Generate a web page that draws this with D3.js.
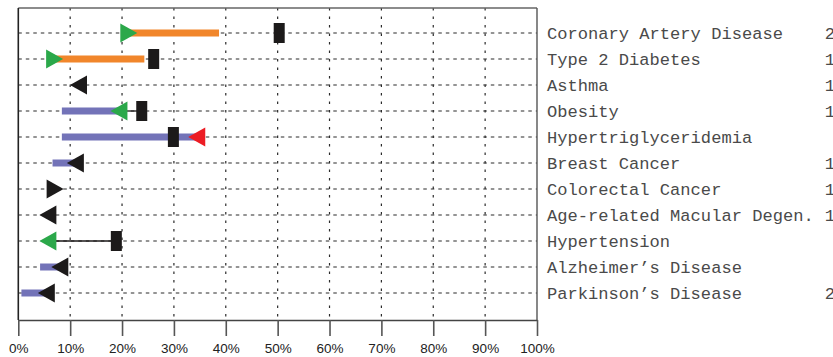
<!DOCTYPE html>
<html>
<head>
<meta charset="utf-8">
<script src="https://cdn.jsdelivr.net/npm/d3@7/dist/d3.min.js"></script>
<style>
  html, body { margin: 0; padding: 0; background: #fff; overflow: hidden; }
  svg { display: block; }
</style>
</head>
<body>
<svg id="chart" width="833" height="357"></svg>
<script>
// Diseases, top to bottom
const categories = [
  "Coronary Artery Disease", "Type 2 Diabetes", "Asthma", "Obesity",
  "Hypertriglyceridemia", "Breast Cancer", "Colorectal Cancer",
  "Age-related Macular Degen.", "Hypertension", "Alzheimer\u2019s Disease",
  "Parkinson\u2019s Disease"
];
// Leading digit of the count column at the right edge
const countDigits = ["2", "1", "1", "1", "", "1", "1", "1", "", "", "2"];

// Triangle markers (percent), direction and colour key
const triValues = [21.3, 7.0, 11.6, 19.4, 34.4, 11.0, 7.1, 5.7, 5.7, 8.0, 5.4];
const triDirs   = ["right", "right", "left", "left", "left", "left", "right", "left", "left", "left", "left"];
const triKinds  = ["green", "green", "black", "green", "red", "black", "black", "black", "green", "black", "black"];

// Square markers (percent)
const rectValues = [50.3, 26.1, null, 23.8, 29.9, null, null, null, 18.9, null, null];

// Thick range bars (percent) and colour key
const barStart = [21.3, 7.0, null, 8.4, 8.4, 6.6, null, null, null, 4.2, 0.6];
const barEnd   = [38.7, 24.3, null, 19.4, 34.4, 11.0, null, null, null, 8.0, 5.4];
const barKinds = ["orange", "orange", null, "purple", "purple", "purple", null, null, null, "purple", "purple"];

// Thin connector from triangle to square
const linkStart = [null, null, null, 19.4, null, null, null, null, 5.7, null, null];

const xTicks = [0, 10, 20, 30, 40, 50, 60, 70, 80, 90, 100];

const palette = {
  green: "#2ba84a", black: "#1c1a1a", red: "#ec1c24",
  orange: "#f1862b", purple: "#7373b8"
};

const svg = d3.select("#chart");
const plotLeft = 18.3, plotRight = 537, plotTop = 8, plotBottom = 320;

const x = d3.scaleLinear().domain([0, 100]).range([plotLeft, plotRight]);
const y = d3.scalePoint().domain(categories).range([33, 293]);

const rows = categories.map((c, i) => ({
  name: c, i,
  tri: triValues[i], dir: triDirs[i], kind: triKinds[i],
  rect: rectValues[i],
  b0: barStart[i], b1: barEnd[i], bk: barKinds[i],
  link: linkStart[i], count: countDigits[i]
}));

// grid
const grid = svg.append("g");
grid.selectAll("line.h")
  .data(categories)
  .join("line")
  .attr("class", "h")
  .attr("x1", plotLeft).attr("x2", plotRight)
  .attr("y1", d => y(d)).attr("y2", d => y(d))
  .attr("stroke", "#2a2a2a").attr("stroke-width", 1.2)
  .attr("stroke-dasharray", "3.5,4");
grid.selectAll("line.v")
  .data(xTicks.slice(1, -1))
  .join("line")
  .attr("class", "v")
  .attr("x1", d => x(d)).attr("x2", d => x(d))
  .attr("y1", plotTop).attr("y2", plotBottom)
  .attr("stroke", "#2a2a2a").attr("stroke-width", 1.2)
  .attr("stroke-dasharray", "2.5,6");

// range bars
svg.append("g").selectAll("line")
  .data(rows.filter(d => d.b0 != null))
  .join("line")
  .attr("x1", d => x(d.b0)).attr("x2", d => x(d.b1))
  .attr("y1", d => y(d.name)).attr("y2", d => y(d.name))
  .attr("stroke", d => palette[d.bk])
  .attr("stroke-width", 7);

// connectors
svg.append("g").selectAll("line")
  .data(rows.filter(d => d.link != null))
  .join("line")
  .attr("x1", d => x(d.link)).attr("x2", d => x(d.rect))
  .attr("y1", d => y(d.name)).attr("y2", d => y(d.name))
  .attr("stroke", "#1c1a1a").attr("stroke-width", 1.3);

// square markers
svg.append("g").selectAll("rect")
  .data(rows.filter(d => d.rect != null))
  .join("rect")
  .attr("x", d => x(d.rect) - 5.5)
  .attr("y", d => y(d.name) - 10)
  .attr("width", 11).attr("height", 20)
  .attr("fill", palette.black);

// triangle markers
const tw = 17, th = 19;
svg.append("g").selectAll("path")
  .data(rows)
  .join("path")
  .attr("d", d => {
    const cx = x(d.tri), cy = y(d.name);
    const s = d.dir === "right" ? 1 : -1;
    return `M${cx - s * tw / 2},${cy - th / 2}L${cx + s * tw / 2},${cy}L${cx - s * tw / 2},${cy + th / 2}Z`;
  })
  .attr("fill", d => palette[d.kind]);

// frame
svg.append("line").attr("x1", plotLeft).attr("x2", plotRight).attr("y1", plotTop).attr("y2", plotTop)
  .attr("stroke", "#666").attr("stroke-width", 1.4);
svg.append("line").attr("x1", plotRight).attr("x2", plotRight).attr("y1", plotTop).attr("y2", plotBottom)
  .attr("stroke", "#555").attr("stroke-width", 1.4);
svg.append("line").attr("x1", plotLeft).attr("x2", plotLeft).attr("y1", plotTop).attr("y2", plotBottom)
  .attr("stroke", "#222").attr("stroke-width", 1.6);

// bottom axis
const axis = svg.append("g")
  .attr("transform", `translate(0,${plotBottom})`)
  .call(d3.axisBottom(x).tickValues(xTicks).tickSize(16).tickSizeOuter(0).tickPadding(7)
    .tickFormat(d => d + "%"));
axis.select(".domain").attr("stroke", "#444").attr("stroke-width", 1.4);
axis.selectAll(".tick line").attr("stroke", "#555").attr("stroke-width", 1.6);
axis.selectAll(".tick text")
  .attr("fill", "#222")
  .style("font-family", "'Liberation Sans', Arial, sans-serif")
  .style("font-size", "13.5px");

// disease labels and counts
const labelX = 547, charW = 10.29;
const labels = svg.append("g")
  .style("font-family", "'Liberation Mono', 'Courier New', monospace")
  .style("font-size", "17.1px")
  .attr("fill", "#4a4a4a");
labels.selectAll("text.name")
  .data(rows)
  .join("text")
  .attr("class", "name")
  .attr("x", labelX)
  .attr("y", d => y(d.name) + 5.5)
  .text(d => d.name);
labels.selectAll("text.count")
  .data(rows)
  .join("text")
  .attr("class", "count")
  .attr("x", labelX + 27 * charW)
  .attr("y", d => y(d.name) + 5.5)
  .text(d => d.count);
</script>
</body>
</html>
